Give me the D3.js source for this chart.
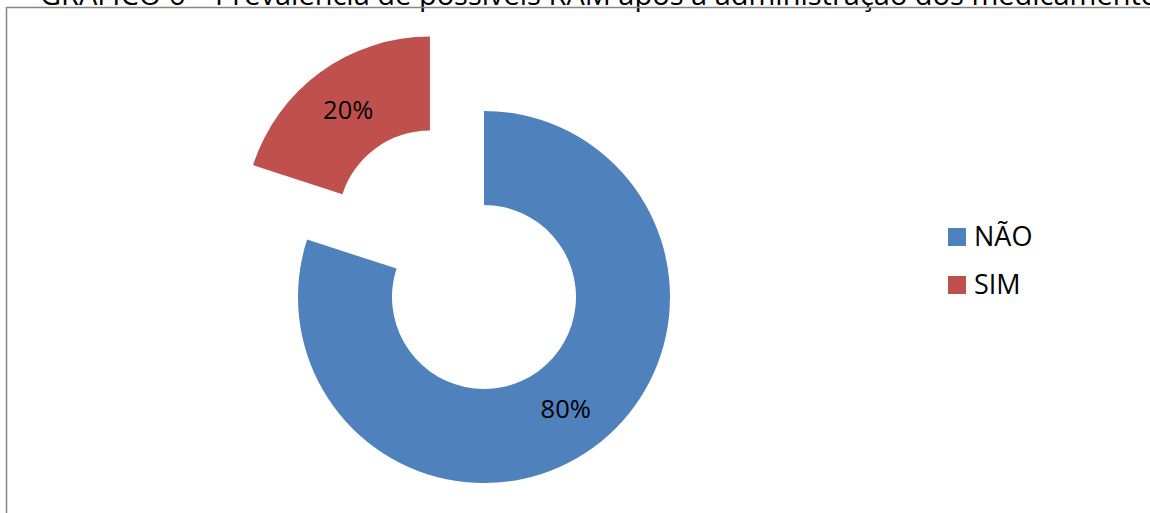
<!DOCTYPE html>
<html>
<head>
<meta charset="utf-8">
<script src="https://cdn.jsdelivr.net/npm/d3@7"></script>
<style>
  body { margin: 0; background: #fff; }
  svg { display: block; }
  text { font-family: "Open Sans", "Liberation Sans", sans-serif; }
</style>
</head>
<body>
<div id="chart-area"></div>
<script>
// data
var categories = ["NÃO", "SIM"];
var values = [80, 20];
var colors = ["#4F81BD", "#C0504D"];
var title = "GRÁFICO 6 – Prevalência de possíveis RAM após a administração dos medicamentos";

var w = 1150, h = 513;
var cx = 484, cy = 297;
var outer = 186, inner = 92;
var explode = 92;   // SIM slice pulled out

var svg = d3.select("#chart-area").append("svg")
	.attr("width", w)
	.attr("height", h);

// title, cut off at the top of the picture like the reference
svg.append("text")
	.attr("x", 40)
	.attr("y", 5)
	.attr("font-family", "Liberation Sans, Arial, sans-serif")
	.attr("font-size", "29px")
	.attr("fill", "#000")
	.text(title);

// chart frame
svg.append("rect")
	.attr("x", 6.5)
	.attr("y", 7.5)
	.attr("width", 1200)
	.attr("height", 600)
	.attr("fill", "none")
	.attr("stroke", "#868686")
	.attr("stroke-width", 1.5);

var data = categories.map(function(c, i) { return {cat: c, value: values[i], color: colors[i]}; });

var pie = d3.pie()
	.sort(null)
	.value(function(d) { return d.value; });

var arc = d3.arc()
	.innerRadius(inner)
	.outerRadius(outer);

var arcs = pie(data);

var g = svg.append("g")
	.attr("transform", "translate(" + cx + "," + cy + ")");

var slices = g.selectAll(".slice")
	.data(arcs)
	.enter().append("g")
	.attr("class", "slice")
	.attr("transform", function(d, i) {
		if (i == 0) return null;
		var a = (d.startAngle + d.endAngle) / 2;
		return "translate(" + (Math.sin(a) * explode) + "," + (-Math.cos(a) * explode) + ")";
	});

slices.append("path")
	.attr("d", arc)
	.attr("fill", function(d) { return d.data.color; });

var total = d3.sum(values);
slices.append("text")
	.attr("transform", function(d) { return "translate(" + arc.centroid(d) + ")"; })
	.attr("dy", "0.35em")
	.attr("text-anchor", "middle")
	.attr("font-size", "25.5px")
	.attr("fill", "#000")
	.text(function(d) { return Math.round(d.data.value / total * 100) + "%"; });

// legend
var legend = svg.append("g")
	.attr("transform", "translate(948, 228)");

var rows = legend.selectAll(".row")
	.data(data)
	.enter().append("g")
	.attr("class", "row")
	.attr("transform", function(d, i) { return "translate(0," + (i * 48) + ")"; });

rows.append("rect")
	.attr("width", 18)
	.attr("height", 18)
	.attr("fill", function(d) { return d.color; });

rows.append("text")
	.attr("x", 26)
	.attr("y", 18)
	.attr("font-size", "27px")
	.attr("fill", "#000")
	.text(function(d) { return d.cat; });
</script>
</body>
</html>
